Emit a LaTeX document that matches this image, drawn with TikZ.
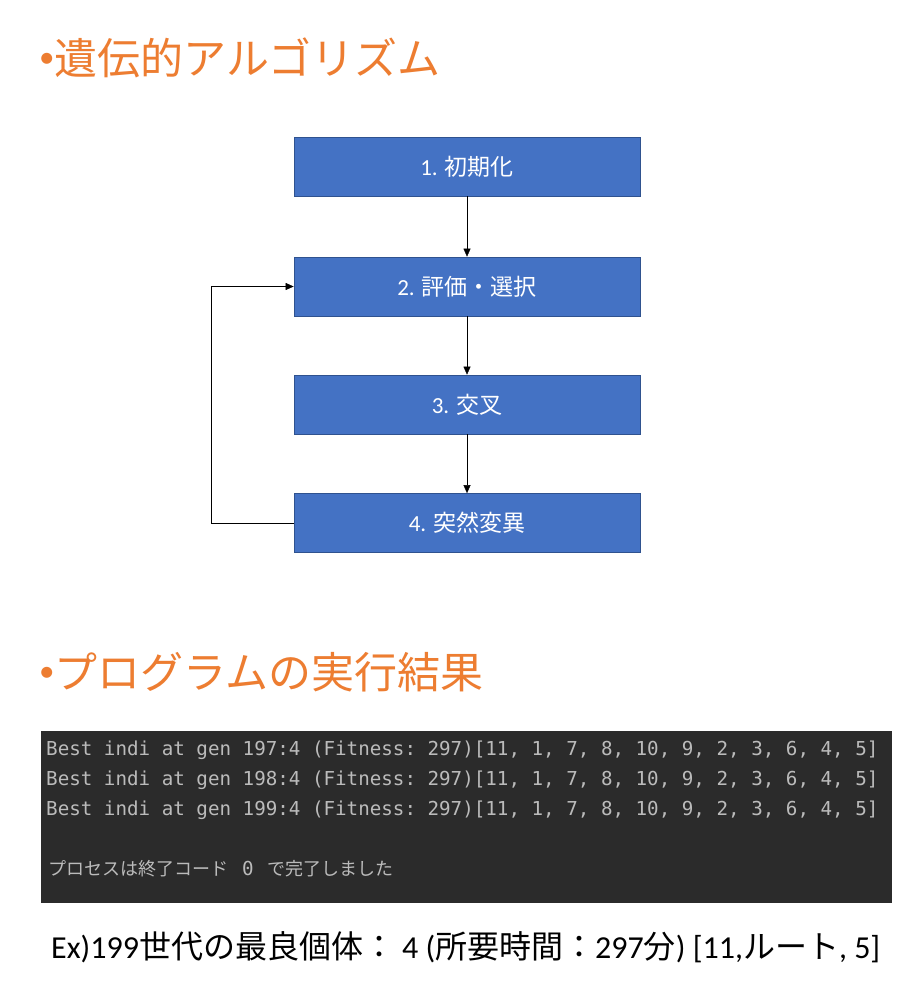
\documentclass[tikz,border=0pt]{standalone}
\usepackage{fontspec}
\setmainfont{Carlito}
\newfontfamily\jp{Noto Sans CJK JP}
\newfontfamily\mono{DejaVu Sans Mono}
\usetikzlibrary{positioning,arrows.meta}
\definecolor{titleorange}{HTML}{ED7D31}
\definecolor{boxblue}{HTML}{4472C4}
\definecolor{boxline}{HTML}{2F528F}
\definecolor{termbg}{HTML}{2B2B2B}
\definecolor{termfg}{HTML}{BBBBBB}
\newcommand{\headbullet}{{\rmfamily\fontsize{31}{31}\selectfont\raisebox{7pt}{•}}}
\tikzset{stage box/.style={draw=boxline, fill=boxblue, rectangle, line width=0.75pt, minimum width=346pt, minimum height=59pt, text=white, font=\fontsize{23}{27}\selectfont}}
\tikzset{heading/.style={anchor=west, inner sep=0pt, text=titleorange, font=\jp\fontsize{43}{50}\selectfont}}
\tikzset{term line/.style={anchor=west, inner sep=0pt, text=termfg, font=\mono\frenchspacing\fontsize{19.2}{22}\selectfont}}

\begin{document}
\begin{tikzpicture}[x=1pt, y=-1pt, node distance=119pt, >={Triangle[length=8pt,width=7pt]}]
\useasboundingbox[fill=white] (0,0) rectangle (913,1000);
\node[heading] (algo) at (39,58) {\headbullet 遺伝的アルゴリズム};
\node[stage box] (init) at (467,166.5) {1. {\jp 初期化}};
\node[stage box, node distance=120pt, below of=init] (eval) {2. {\jp 評価・選択}};
\node[stage box, node distance=118pt, below of=eval] (cross) {3. {\jp 交叉}};
\node[stage box, node distance=118.5pt, below of=cross] (mutate) {4. {\jp 突然変異}};
\draw [->] (init) -- (eval);
\draw [->] (eval) -- (cross);
\draw [->] (cross) -- (mutate);
\draw [->] (mutate.west) -- ++(-82,0) |- (eval.west);
\node[heading] (result) at (39,672) {\headbullet プログラムの実行結果};
\node[fill=termbg, inner sep=0pt, minimum width=851pt, minimum height=172pt] (term) at (466.5,817) {};
\foreach \g/\y in {197/750, 198/780, 199/810}
  \node[term line] (gen\g) at (46,\y) {Best indi at gen \g:4 (Fitness: 297)[11, 1, 7, 8, 10, 9, 2, 3, 6, 4, 5]};
\node[term line, font=\jp\fontsize{18}{20}\selectfont] (exitmsg) at (48,869) {プロセスは終了コード\hspace{14pt}{\mono\fontsize{19.2}{22}\selectfont 0}\hspace{14pt}で完了しました};
\node[anchor=west, inner sep=0pt, font=\fontsize{32}{38}\selectfont] (example) at (51,947) {Ex)199{\jp 世代の最良個体：}\hspace{7pt}4 ({\jp 所要時間：}297{\jp 分}) [11,{\jp ルート}, 5]};
\end{tikzpicture}
\end{document}
